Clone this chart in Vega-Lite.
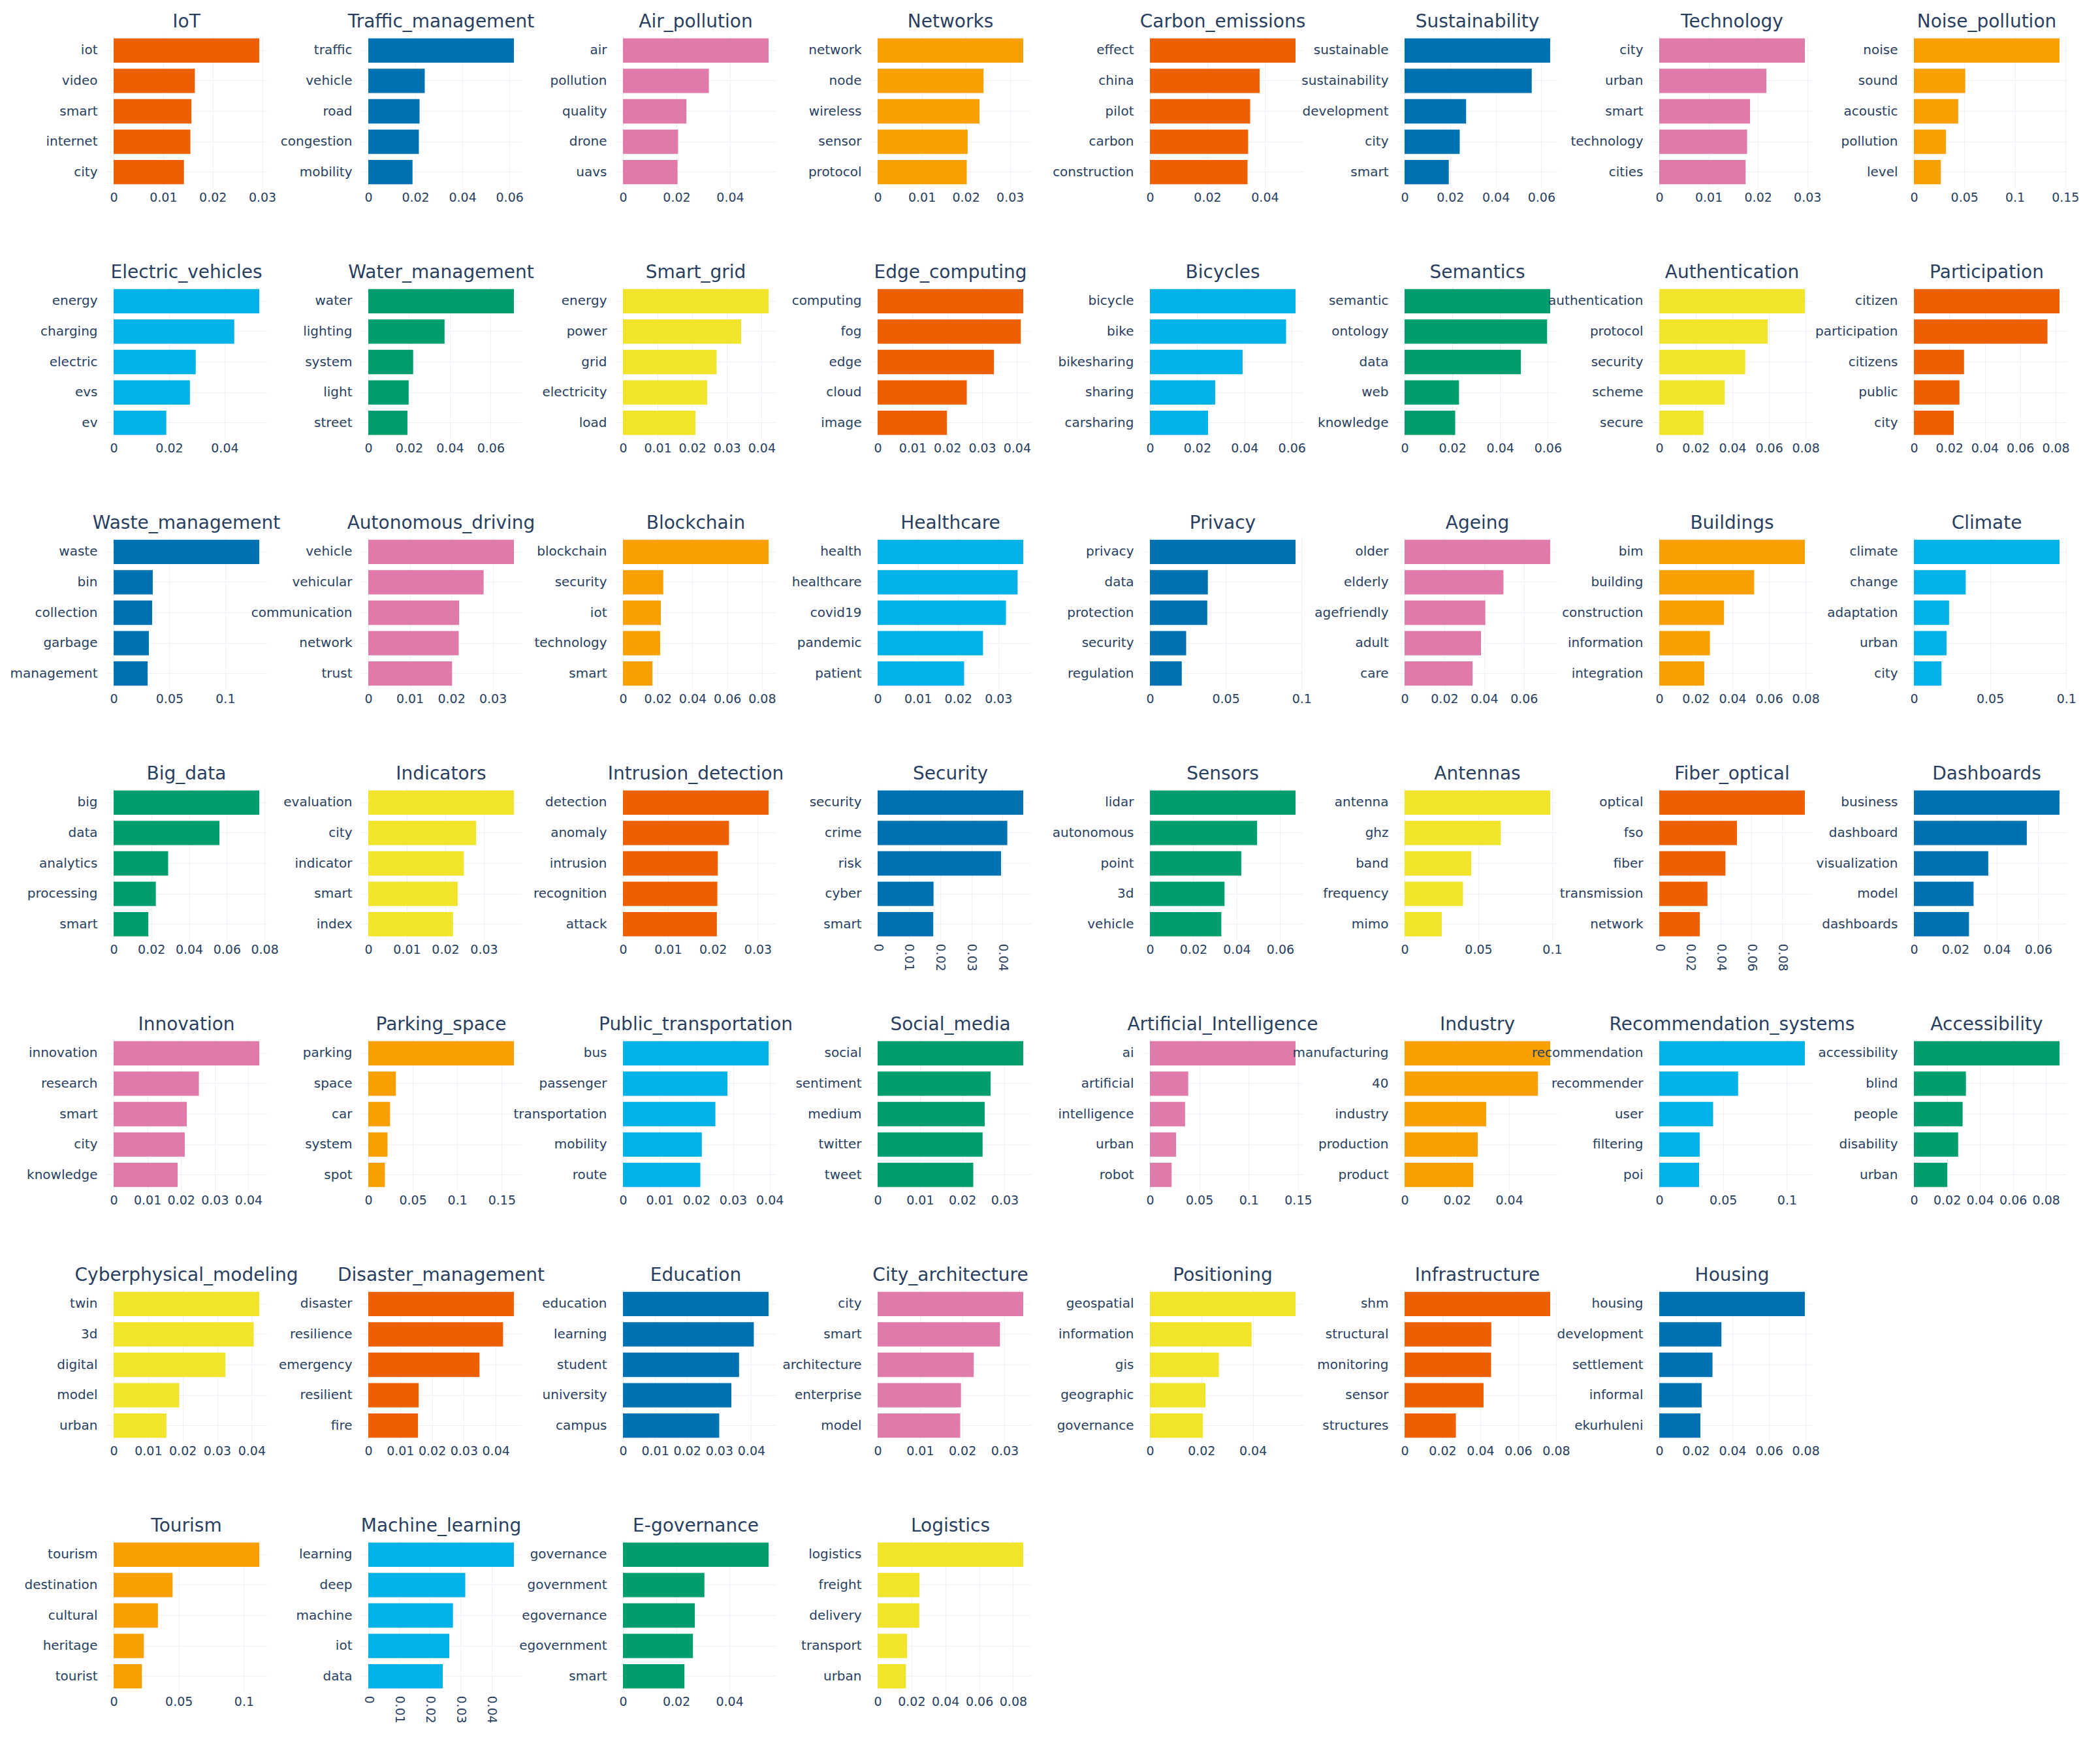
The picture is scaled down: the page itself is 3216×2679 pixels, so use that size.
{
  "$schema": "https://vega.github.io/schema/vega-lite/v6.json",
  "background": "white",
  "padding": {"left": 15, "top": 20, "right": 10, "bottom": 10},
  "config": {
    "font": "DejaVu Sans",
    "view": {"stroke": null},
    "header": {"title": null, "labelFontSize": 28, "labelFont": "DejaVu Sans", "labelColor": "#2a3f5f", "labelPadding": 6},
    "axisY": {"title": null, "ticks": false, "domain": false, "labelFontSize": 20, "labelColor": "#2a3f5f", "labelPadding": 14, "grid": true, "gridColor": "#EBF0F8", "bandPosition": 0.5, "labelLimit": 400},
    "axisX": {"title": null, "ticks": false, "domain": false, "labelFontSize": 19, "labelColor": "#2a3f5f", "labelPadding": 6, "grid": true, "gridColor": "#EBF0F8", "labelFlush": false, "labelOverlap": false, "format": "~g"}
  },
  "datasets": {
    "left": [
      {"topic":"IoT","word":"iot","score":0.0294},{"topic":"IoT","word":"video","score":0.0164},{"topic":"IoT","word":"smart","score":0.0157},{"topic":"IoT","word":"internet","score":0.0155},{"topic":"IoT","word":"city","score":0.0142},
      {"topic":"Traffic_management","word":"traffic","score":0.0619},{"topic":"Traffic_management","word":"vehicle","score":0.0240},{"topic":"Traffic_management","word":"road","score":0.0218},{"topic":"Traffic_management","word":"congestion","score":0.0215},{"topic":"Traffic_management","word":"mobility","score":0.0188},
      {"topic":"Air_pollution","word":"air","score":0.0544},{"topic":"Air_pollution","word":"pollution","score":0.0321},{"topic":"Air_pollution","word":"quality","score":0.0237},{"topic":"Air_pollution","word":"drone","score":0.0206},{"topic":"Air_pollution","word":"uavs","score":0.0204},
      {"topic":"Networks","word":"network","score":0.0330},{"topic":"Networks","word":"node","score":0.0240},{"topic":"Networks","word":"wireless","score":0.0231},{"topic":"Networks","word":"sensor","score":0.0204},{"topic":"Networks","word":"protocol","score":0.0202},
      {"topic":"Electric_vehicles","word":"energy","score":0.0525},{"topic":"Electric_vehicles","word":"charging","score":0.0435},{"topic":"Electric_vehicles","word":"electric","score":0.0296},{"topic":"Electric_vehicles","word":"evs","score":0.0275},{"topic":"Electric_vehicles","word":"ev","score":0.0190},
      {"topic":"Water_management","word":"water","score":0.0714},{"topic":"Water_management","word":"lighting","score":0.0374},{"topic":"Water_management","word":"system","score":0.0220},{"topic":"Water_management","word":"light","score":0.0198},{"topic":"Water_management","word":"street","score":0.0192},
      {"topic":"Smart_grid","word":"energy","score":0.0420},{"topic":"Smart_grid","word":"power","score":0.0341},{"topic":"Smart_grid","word":"grid","score":0.0270},{"topic":"Smart_grid","word":"electricity","score":0.0243},{"topic":"Smart_grid","word":"load","score":0.0209},
      {"topic":"Edge_computing","word":"computing","score":0.0418},{"topic":"Edge_computing","word":"fog","score":0.0411},{"topic":"Edge_computing","word":"edge","score":0.0334},{"topic":"Edge_computing","word":"cloud","score":0.0256},{"topic":"Edge_computing","word":"image","score":0.0199},
      {"topic":"Waste_management","word":"waste","score":0.1305},{"topic":"Waste_management","word":"bin","score":0.0351},{"topic":"Waste_management","word":"collection","score":0.0345},{"topic":"Waste_management","word":"garbage","score":0.0316},{"topic":"Waste_management","word":"management","score":0.0305},
      {"topic":"Autonomous_driving","word":"vehicle","score":0.0351},{"topic":"Autonomous_driving","word":"vehicular","score":0.0278},{"topic":"Autonomous_driving","word":"communication","score":0.0219},{"topic":"Autonomous_driving","word":"network","score":0.0218},{"topic":"Autonomous_driving","word":"trust","score":0.0202},
      {"topic":"Blockchain","word":"blockchain","score":0.0838},{"topic":"Blockchain","word":"security","score":0.0232},{"topic":"Blockchain","word":"iot","score":0.0218},{"topic":"Blockchain","word":"technology","score":0.0214},{"topic":"Blockchain","word":"smart","score":0.0170},
      {"topic":"Healthcare","word":"health","score":0.0362},{"topic":"Healthcare","word":"healthcare","score":0.0348},{"topic":"Healthcare","word":"covid19","score":0.0319},{"topic":"Healthcare","word":"pandemic","score":0.0262},{"topic":"Healthcare","word":"patient","score":0.0215},
      {"topic":"Big_data","word":"big","score":0.0772},{"topic":"Big_data","word":"data","score":0.0561},{"topic":"Big_data","word":"analytics","score":0.0289},{"topic":"Big_data","word":"processing","score":0.0224},{"topic":"Big_data","word":"smart","score":0.0184},
      {"topic":"Indicators","word":"evaluation","score":0.0378},{"topic":"Indicators","word":"city","score":0.0280},{"topic":"Indicators","word":"indicator","score":0.0248},{"topic":"Indicators","word":"smart","score":0.0232},{"topic":"Indicators","word":"index","score":0.0220},
      {"topic":"Intrusion_detection","word":"detection","score":0.0324},{"topic":"Intrusion_detection","word":"anomaly","score":0.0236},{"topic":"Intrusion_detection","word":"intrusion","score":0.0211},{"topic":"Intrusion_detection","word":"recognition","score":0.0210},{"topic":"Intrusion_detection","word":"attack","score":0.0209},
      {"topic":"Security","word":"security","score":0.0466},{"topic":"Security","word":"crime","score":0.0415},{"topic":"Security","word":"risk","score":0.0395},{"topic":"Security","word":"cyber","score":0.0179},{"topic":"Security","word":"smart","score":0.0178},
      {"topic":"Innovation","word":"innovation","score":0.0432},{"topic":"Innovation","word":"research","score":0.0253},{"topic":"Innovation","word":"smart","score":0.0217},{"topic":"Innovation","word":"city","score":0.0211},{"topic":"Innovation","word":"knowledge","score":0.0190},
      {"topic":"Parking_space","word":"parking","score":0.1637},{"topic":"Parking_space","word":"space","score":0.0310},{"topic":"Parking_space","word":"car","score":0.0245},{"topic":"Parking_space","word":"system","score":0.0216},{"topic":"Parking_space","word":"spot","score":0.0187},
      {"topic":"Public_transportation","word":"bus","score":0.0397},{"topic":"Public_transportation","word":"passenger","score":0.0285},{"topic":"Public_transportation","word":"transportation","score":0.0252},{"topic":"Public_transportation","word":"mobility","score":0.0215},{"topic":"Public_transportation","word":"route","score":0.0211},
      {"topic":"Social_media","word":"social","score":0.0344},{"topic":"Social_media","word":"sentiment","score":0.0267},{"topic":"Social_media","word":"medium","score":0.0253},{"topic":"Social_media","word":"twitter","score":0.0248},{"topic":"Social_media","word":"tweet","score":0.0226},
      {"topic":"Cyberphysical_modeling","word":"twin","score":0.0422},{"topic":"Cyberphysical_modeling","word":"3d","score":0.0406},{"topic":"Cyberphysical_modeling","word":"digital","score":0.0324},{"topic":"Cyberphysical_modeling","word":"model","score":0.0190},{"topic":"Cyberphysical_modeling","word":"urban","score":0.0153},
      {"topic":"Disaster_management","word":"disaster","score":0.0457},{"topic":"Disaster_management","word":"resilience","score":0.0423},{"topic":"Disaster_management","word":"emergency","score":0.0349},{"topic":"Disaster_management","word":"resilient","score":0.0158},{"topic":"Disaster_management","word":"fire","score":0.0156},
      {"topic":"Education","word":"education","score":0.0454},{"topic":"Education","word":"learning","score":0.0408},{"topic":"Education","word":"student","score":0.0362},{"topic":"Education","word":"university","score":0.0338},{"topic":"Education","word":"campus","score":0.0300},
      {"topic":"City_architecture","word":"city","score":0.0344},{"topic":"City_architecture","word":"smart","score":0.0289},{"topic":"City_architecture","word":"architecture","score":0.0227},{"topic":"City_architecture","word":"enterprise","score":0.0197},{"topic":"City_architecture","word":"model","score":0.0195},
      {"topic":"Tourism","word":"tourism","score":0.1118},{"topic":"Tourism","word":"destination","score":0.0453},{"topic":"Tourism","word":"cultural","score":0.0340},{"topic":"Tourism","word":"heritage","score":0.0232},{"topic":"Tourism","word":"tourist","score":0.0217},
      {"topic":"Machine_learning","word":"learning","score":0.0473},{"topic":"Machine_learning","word":"deep","score":0.0315},{"topic":"Machine_learning","word":"machine","score":0.0275},{"topic":"Machine_learning","word":"iot","score":0.0263},{"topic":"Machine_learning","word":"data","score":0.0242},
      {"topic":"E-governance","word":"governance","score":0.0547},{"topic":"E-governance","word":"government","score":0.0306},{"topic":"E-governance","word":"egovernance","score":0.0270},{"topic":"E-governance","word":"egovernment","score":0.0263},{"topic":"E-governance","word":"smart","score":0.0231},
      {"topic":"Logistics","word":"logistics","score":0.0860},{"topic":"Logistics","word":"freight","score":0.0247},{"topic":"Logistics","word":"delivery","score":0.0246},{"topic":"Logistics","word":"transport","score":0.0174},{"topic":"Logistics","word":"urban","score":0.0167}
    ],
    "right": [
      {"topic":"Carbon_emissions","word":"effect","score":0.0507},{"topic":"Carbon_emissions","word":"china","score":0.0382},{"topic":"Carbon_emissions","word":"pilot","score":0.0349},{"topic":"Carbon_emissions","word":"carbon","score":0.0342},{"topic":"Carbon_emissions","word":"construction","score":0.0340},
      {"topic":"Sustainability","word":"sustainable","score":0.0639},{"topic":"Sustainability","word":"sustainability","score":0.0558},{"topic":"Sustainability","word":"development","score":0.0270},{"topic":"Sustainability","word":"city","score":0.0242},{"topic":"Sustainability","word":"smart","score":0.0194},
      {"topic":"Technology","word":"city","score":0.0295},{"topic":"Technology","word":"urban","score":0.0217},{"topic":"Technology","word":"smart","score":0.0184},{"topic":"Technology","word":"technology","score":0.0178},{"topic":"Technology","word":"cities","score":0.0175},
      {"topic":"Noise_pollution","word":"noise","score":0.1443},{"topic":"Noise_pollution","word":"sound","score":0.0509},{"topic":"Noise_pollution","word":"acoustic","score":0.0439},{"topic":"Noise_pollution","word":"pollution","score":0.0318},{"topic":"Noise_pollution","word":"level","score":0.0267},
      {"topic":"Bicycles","word":"bicycle","score":0.0616},{"topic":"Bicycles","word":"bike","score":0.0576},{"topic":"Bicycles","word":"bikesharing","score":0.0392},{"topic":"Bicycles","word":"sharing","score":0.0276},{"topic":"Bicycles","word":"carsharing","score":0.0246},
      {"topic":"Semantics","word":"semantic","score":0.0610},{"topic":"Semantics","word":"ontology","score":0.0597},{"topic":"Semantics","word":"data","score":0.0487},{"topic":"Semantics","word":"web","score":0.0228},{"topic":"Semantics","word":"knowledge","score":0.0212},
      {"topic":"Authentication","word":"authentication","score":0.0796},{"topic":"Authentication","word":"protocol","score":0.0593},{"topic":"Authentication","word":"security","score":0.0470},{"topic":"Authentication","word":"scheme","score":0.0358},{"topic":"Authentication","word":"secure","score":0.0242},
      {"topic":"Participation","word":"citizen","score":0.0822},{"topic":"Participation","word":"participation","score":0.0754},{"topic":"Participation","word":"citizens","score":0.0283},{"topic":"Participation","word":"public","score":0.0257},{"topic":"Participation","word":"city","score":0.0225},
      {"topic":"Privacy","word":"privacy","score":0.0960},{"topic":"Privacy","word":"data","score":0.0382},{"topic":"Privacy","word":"protection","score":0.0378},{"topic":"Privacy","word":"security","score":0.0239},{"topic":"Privacy","word":"regulation","score":0.0210},
      {"topic":"Ageing","word":"older","score":0.0732},{"topic":"Ageing","word":"elderly","score":0.0497},{"topic":"Ageing","word":"agefriendly","score":0.0406},{"topic":"Ageing","word":"adult","score":0.0384},{"topic":"Ageing","word":"care","score":0.0342},
      {"topic":"Buildings","word":"bim","score":0.0796},{"topic":"Buildings","word":"building","score":0.0519},{"topic":"Buildings","word":"construction","score":0.0354},{"topic":"Buildings","word":"information","score":0.0277},{"topic":"Buildings","word":"integration","score":0.0246},
      {"topic":"Climate","word":"climate","score":0.0956},{"topic":"Climate","word":"change","score":0.0340},{"topic":"Climate","word":"adaptation","score":0.0231},{"topic":"Climate","word":"urban","score":0.0214},{"topic":"Climate","word":"city","score":0.0181},
      {"topic":"Sensors","word":"lidar","score":0.0671},{"topic":"Sensors","word":"autonomous","score":0.0494},{"topic":"Sensors","word":"point","score":0.0421},{"topic":"Sensors","word":"3d","score":0.0344},{"topic":"Sensors","word":"vehicle","score":0.0329},
      {"topic":"Antennas","word":"antenna","score":0.0987},{"topic":"Antennas","word":"ghz","score":0.0652},{"topic":"Antennas","word":"band","score":0.0452},{"topic":"Antennas","word":"frequency","score":0.0396},{"topic":"Antennas","word":"mimo","score":0.0252},
      {"topic":"Fiber_optical","word":"optical","score":0.0948},{"topic":"Fiber_optical","word":"fso","score":0.0506},{"topic":"Fiber_optical","word":"fiber","score":0.0431},{"topic":"Fiber_optical","word":"transmission","score":0.0314},{"topic":"Fiber_optical","word":"network","score":0.0264},
      {"topic":"Dashboards","word":"business","score":0.0703},{"topic":"Dashboards","word":"dashboard","score":0.0545},{"topic":"Dashboards","word":"visualization","score":0.0359},{"topic":"Dashboards","word":"model","score":0.0288},{"topic":"Dashboards","word":"dashboards","score":0.0266},
      {"topic":"Artificial_Intelligence","word":"ai","score":0.1474},{"topic":"Artificial_Intelligence","word":"artificial","score":0.0388},{"topic":"Artificial_Intelligence","word":"intelligence","score":0.0356},{"topic":"Artificial_Intelligence","word":"urban","score":0.0265},{"topic":"Artificial_Intelligence","word":"robot","score":0.0220},
      {"topic":"Industry","word":"manufacturing","score":0.0557},{"topic":"Industry","word":"40","score":0.0510},{"topic":"Industry","word":"industry","score":0.0312},{"topic":"Industry","word":"production","score":0.0280},{"topic":"Industry","word":"product","score":0.0263},
      {"topic":"Recommendation_systems","word":"recommendation","score":0.1141},{"topic":"Recommendation_systems","word":"recommender","score":0.0618},{"topic":"Recommendation_systems","word":"user","score":0.0422},{"topic":"Recommendation_systems","word":"filtering","score":0.0317},{"topic":"Recommendation_systems","word":"poi","score":0.0312},
      {"topic":"Accessibility","word":"accessibility","score":0.0882},{"topic":"Accessibility","word":"blind","score":0.0315},{"topic":"Accessibility","word":"people","score":0.0295},{"topic":"Accessibility","word":"disability","score":0.0268},{"topic":"Accessibility","word":"urban","score":0.0202},
      {"topic":"Positioning","word":"geospatial","score":0.0566},{"topic":"Positioning","word":"information","score":0.0395},{"topic":"Positioning","word":"gis","score":0.0268},{"topic":"Positioning","word":"geographic","score":0.0216},{"topic":"Positioning","word":"governance","score":0.0206},
      {"topic":"Infrastructure","word":"shm","score":0.0769},{"topic":"Infrastructure","word":"structural","score":0.0458},{"topic":"Infrastructure","word":"monitoring","score":0.0457},{"topic":"Infrastructure","word":"sensor","score":0.0417},{"topic":"Infrastructure","word":"structures","score":0.0271},
      {"topic":"Housing","word":"housing","score":0.0796},{"topic":"Housing","word":"development","score":0.0340},{"topic":"Housing","word":"settlement","score":0.0291},{"topic":"Housing","word":"informal","score":0.0232},{"topic":"Housing","word":"ekurhuleni","score":0.0225}
    ]
  },
  "resolve": {"scale": {"color": "independent"}},
  "spacing": 32,
  "hconcat": [
    {
      "name": "L",
      "data": {"name": "left"},
      "columns": 4,
      "spacing": {"row": 151, "column": 145},
      "bounds": "flush",
      "facet": {"field": "topic", "type": "nominal", "sort": ["IoT","Traffic_management","Air_pollution","Networks","Electric_vehicles","Water_management","Smart_grid","Edge_computing","Waste_management","Autonomous_driving","Blockchain","Healthcare","Big_data","Indicators","Intrusion_detection","Security","Innovation","Parking_space","Public_transportation","Social_media","Cyberphysical_modeling","Disaster_management","Education","City_architecture","Tourism","Machine_learning","E-governance","Logistics"]},
      "resolve": {"scale": {"x": "independent", "y": "independent"}},
      "spec": {
        "width": 245,
        "height": 233,
        "mark": {"type": "bar"},
        "encoding": {
          "x": {"field": "score", "type": "quantitative",
            "scale": {"domain": {"unionWith": [0]}, "zero": true, "nice": false, "padding": 11, "domainMin": 0},
            "axis": {
              "values": {"expr": "sequence(0, domain('L_child_x')[1]*1.0001, ((domain('L_child_x')[1]/5/pow(10,floor(log(domain('L_child_x')[1]/5)/LN10)))<=1.000001?1:(domain('L_child_x')[1]/5/pow(10,floor(log(domain('L_child_x')[1]/5)/LN10)))<=2.000001?2:(domain('L_child_x')[1]/5/pow(10,floor(log(domain('L_child_x')[1]/5)/LN10)))<=5.000001?5:10)*pow(10,floor(log(domain('L_child_x')[1]/5)/LN10)))"},
              "labelAngle": {"expr": "domain('L_child_x')[1]/(((domain('L_child_x')[1]/5/pow(10,floor(log(domain('L_child_x')[1]/5)/LN10)))<=1.000001?1:(domain('L_child_x')[1]/5/pow(10,floor(log(domain('L_child_x')[1]/5)/LN10)))<=2.000001?2:(domain('L_child_x')[1]/5/pow(10,floor(log(domain('L_child_x')[1]/5)/LN10)))<=5.000001?5:10)*pow(10,floor(log(domain('L_child_x')[1]/5)/LN10))) > 4.84 ? 90 : 0"},
              "labelAlign": {"expr": "domain('L_child_x')[1]/(((domain('L_child_x')[1]/5/pow(10,floor(log(domain('L_child_x')[1]/5)/LN10)))<=1.000001?1:(domain('L_child_x')[1]/5/pow(10,floor(log(domain('L_child_x')[1]/5)/LN10)))<=2.000001?2:(domain('L_child_x')[1]/5/pow(10,floor(log(domain('L_child_x')[1]/5)/LN10)))<=5.000001?5:10)*pow(10,floor(log(domain('L_child_x')[1]/5)/LN10))) > 4.84 ? 'left' : 'center'"},
              "labelBaseline": {"expr": "domain('L_child_x')[1]/(((domain('L_child_x')[1]/5/pow(10,floor(log(domain('L_child_x')[1]/5)/LN10)))<=1.000001?1:(domain('L_child_x')[1]/5/pow(10,floor(log(domain('L_child_x')[1]/5)/LN10)))<=2.000001?2:(domain('L_child_x')[1]/5/pow(10,floor(log(domain('L_child_x')[1]/5)/LN10)))<=5.000001?5:10)*pow(10,floor(log(domain('L_child_x')[1]/5)/LN10))) > 4.84 ? 'middle' : 'top'"}
            }},
          "y": {"field": "word", "type": "nominal", "sort": "-x", "scale": {"paddingInner": 0.2, "paddingOuter": 0.1}},
          "color": {"field": "topic", "type": "nominal", "legend": null, "scale": {
            "domain": ["IoT","Traffic_management","Air_pollution","Networks","Electric_vehicles","Water_management","Smart_grid","Edge_computing","Waste_management","Autonomous_driving","Blockchain","Healthcare","Big_data","Indicators","Intrusion_detection","Security","Innovation","Parking_space","Public_transportation","Social_media","Cyberphysical_modeling","Disaster_management","Education","City_architecture","Tourism","Machine_learning","E-governance","Logistics"],
            "range": ["#EE5F00","#0072B2","#E07AAB","#F8A000","#00B2E8","#009E6E","#F2E42A","#EE5F00","#0072B2","#E07AAB","#F8A000","#00B2E8","#009E6E","#F2E42A","#EE5F00","#0072B2","#E07AAB","#F8A000","#00B2E8","#009E6E","#F2E42A","#EE5F00","#0072B2","#E07AAB","#F8A000","#00B2E8","#009E6E","#F2E42A"]}}
        }
      }
    },
    {
      "name": "R",
      "data": {"name": "right"},
      "columns": 4,
      "spacing": {"row": 151, "column": 145},
      "bounds": "flush",
      "facet": {"field": "topic", "type": "nominal", "sort": ["Carbon_emissions","Sustainability","Technology","Noise_pollution","Bicycles","Semantics","Authentication","Participation","Privacy","Ageing","Buildings","Climate","Sensors","Antennas","Fiber_optical","Dashboards","Artificial_Intelligence","Industry","Recommendation_systems","Accessibility","Positioning","Infrastructure","Housing"]},
      "resolve": {"scale": {"x": "independent", "y": "independent"}},
      "spec": {
        "width": 245,
        "height": 233,
        "mark": {"type": "bar"},
        "encoding": {
          "x": {"field": "score", "type": "quantitative",
            "scale": {"domain": {"unionWith": [0]}, "zero": true, "nice": false, "padding": 11, "domainMin": 0},
            "axis": {
              "values": {"expr": "sequence(0, domain('R_child_x')[1]*1.0001, ((domain('R_child_x')[1]/5/pow(10,floor(log(domain('R_child_x')[1]/5)/LN10)))<=1.000001?1:(domain('R_child_x')[1]/5/pow(10,floor(log(domain('R_child_x')[1]/5)/LN10)))<=2.000001?2:(domain('R_child_x')[1]/5/pow(10,floor(log(domain('R_child_x')[1]/5)/LN10)))<=5.000001?5:10)*pow(10,floor(log(domain('R_child_x')[1]/5)/LN10)))"},
              "labelAngle": {"expr": "domain('R_child_x')[1]/(((domain('R_child_x')[1]/5/pow(10,floor(log(domain('R_child_x')[1]/5)/LN10)))<=1.000001?1:(domain('R_child_x')[1]/5/pow(10,floor(log(domain('R_child_x')[1]/5)/LN10)))<=2.000001?2:(domain('R_child_x')[1]/5/pow(10,floor(log(domain('R_child_x')[1]/5)/LN10)))<=5.000001?5:10)*pow(10,floor(log(domain('R_child_x')[1]/5)/LN10))) > 4.84 ? 90 : 0"},
              "labelAlign": {"expr": "domain('R_child_x')[1]/(((domain('R_child_x')[1]/5/pow(10,floor(log(domain('R_child_x')[1]/5)/LN10)))<=1.000001?1:(domain('R_child_x')[1]/5/pow(10,floor(log(domain('R_child_x')[1]/5)/LN10)))<=2.000001?2:(domain('R_child_x')[1]/5/pow(10,floor(log(domain('R_child_x')[1]/5)/LN10)))<=5.000001?5:10)*pow(10,floor(log(domain('R_child_x')[1]/5)/LN10))) > 4.84 ? 'left' : 'center'"},
              "labelBaseline": {"expr": "domain('R_child_x')[1]/(((domain('R_child_x')[1]/5/pow(10,floor(log(domain('R_child_x')[1]/5)/LN10)))<=1.000001?1:(domain('R_child_x')[1]/5/pow(10,floor(log(domain('R_child_x')[1]/5)/LN10)))<=2.000001?2:(domain('R_child_x')[1]/5/pow(10,floor(log(domain('R_child_x')[1]/5)/LN10)))<=5.000001?5:10)*pow(10,floor(log(domain('R_child_x')[1]/5)/LN10))) > 4.84 ? 'middle' : 'top'"}
            }},
          "y": {"field": "word", "type": "nominal", "sort": "-x", "scale": {"paddingInner": 0.2, "paddingOuter": 0.1}},
          "color": {"field": "topic", "type": "nominal", "legend": null, "scale": {
            "domain": ["Carbon_emissions","Sustainability","Technology","Noise_pollution","Bicycles","Semantics","Authentication","Participation","Privacy","Ageing","Buildings","Climate","Sensors","Antennas","Fiber_optical","Dashboards","Artificial_Intelligence","Industry","Recommendation_systems","Accessibility","Positioning","Infrastructure","Housing"],
            "range": ["#EE5F00","#0072B2","#E07AAB","#F8A000","#00B2E8","#009E6E","#F2E42A","#EE5F00","#0072B2","#E07AAB","#F8A000","#00B2E8","#009E6E","#F2E42A","#EE5F00","#0072B2","#E07AAB","#F8A000","#00B2E8","#009E6E","#F2E42A","#EE5F00","#0072B2"]}}
        }
      }
    }
  ]
}
